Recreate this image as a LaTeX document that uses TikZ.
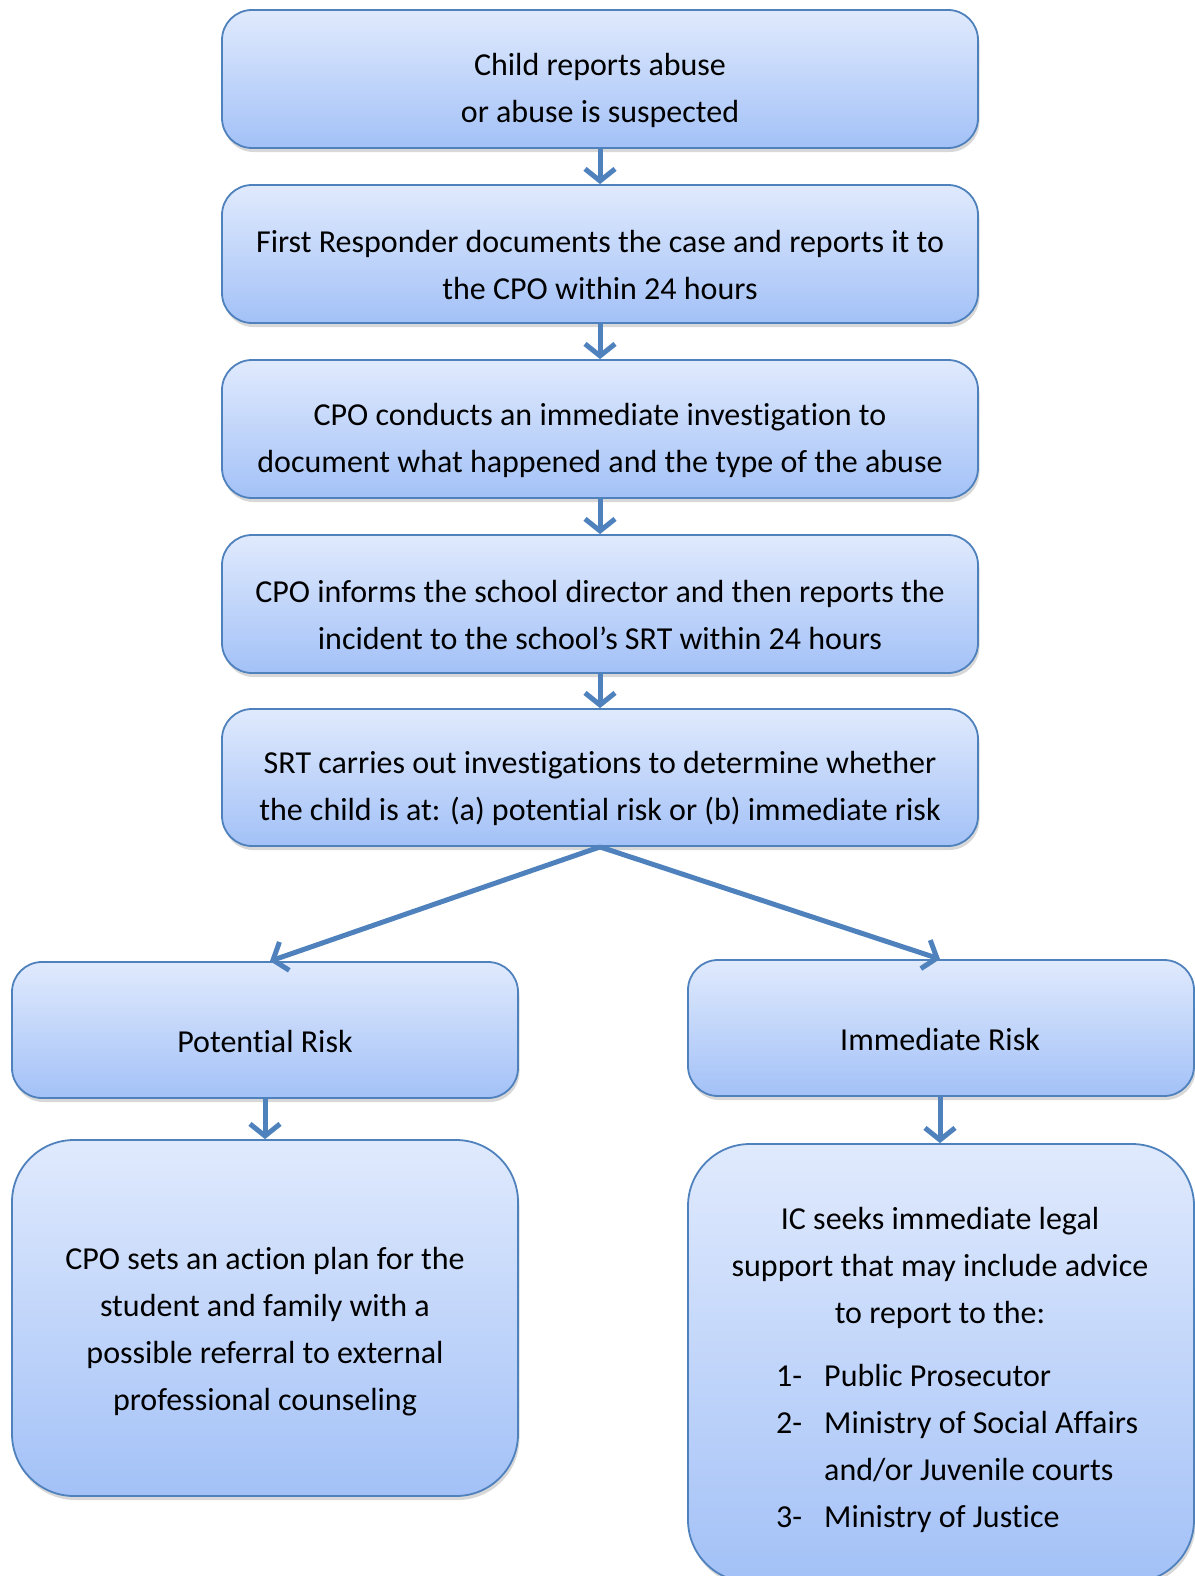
\documentclass[tikz,border=0pt]{standalone}
\usepackage{fontspec}
\setmainfont{Carlito}[Ligatures=CommonOff, RawFeature={-calt;-dlig;-liga;-clig}]
\usetikzlibrary{arrows.meta,shadows}
\definecolor{bordc}{HTML}{4F81BD}
\definecolor{topc}{HTML}{E0EAFD}
\definecolor{botc}{HTML}{A3C1F7}
\definecolor{arrc}{HTML}{4F81BD}
\tikzset{
  flowbox/.style={draw=bordc, line width=1.8pt, rounded corners=30pt,
    top color=topc, bottom color=botc, shading angle=0,
    drop shadow={shadow xshift=1.5pt, shadow yshift=-4pt, opacity=0.22, fill=black!70},
    inner sep=0pt},
  bigbox/.style={flowbox, rounded corners=62pt},
  boxtext/.style={inner sep=0pt, align=center, font=\fontsize{32}{47}\selectfont, text=black},
  flowarrow/.style={draw=arrc, line width=5pt, -{Straight Barb[length=12pt,width=30pt,line width=5pt]}}
}
\begin{document}
\begin{tikzpicture}[x=1pt,y=-1pt]
\useasboundingbox (0,0) rectangle (1194,1576);
\node[flowbox, minimum width=756pt, minimum height=138pt] (b1) at (600,79) {};
\node[flowbox, minimum width=756pt, minimum height=138pt] (b2) at (600,254) {};
\node[flowbox, minimum width=756pt, minimum height=138pt] (b3) at (600,429) {};
\node[flowbox, minimum width=756pt, minimum height=138pt] (b4) at (600,604) {};
\node[flowbox, minimum width=756pt, minimum height=137pt] (b5) at (600,777.5) {};
\node[flowbox, minimum width=506pt, minimum height=136pt] (pr) at (265,1030) {};
\node[flowbox, minimum width=506pt, minimum height=136pt] (ir) at (941,1028) {};
\node[bigbox, minimum width=506pt, minimum height=356pt] (bl) at (265,1318) {};
\node[bigbox, minimum width=506pt, minimum height=438pt] (br) at (941,1363) {};
\node[boxtext] (t1) at ([yshift=-11pt]b1.center) {Child reports abuse\\or abuse is suspected};
\node[boxtext] (t2) at ([yshift=-11pt]b2.center) {First Responder documents the case and reports it to\\the CPO within 24 hours};
\node[boxtext] (t3) at ([yshift=-11pt]b3.center) {CPO conducts an immediate investigation to\\document what happened and the type of the abuse};
\node[boxtext] (t4) at ([yshift=-11pt]b4.center) {CPO informs the school director and then reports the\\incident to the school’s SRT within 24 hours};
\node[boxtext] (t5) at ([yshift=-11pt]b5.center) {SRT carries out investigations to determine whether\\the child is at: (a) potential risk or (b) immediate risk};
\node[boxtext] (tpr) at ([yshift=-11pt]pr.center) {Potential Risk};
\node[boxtext] (tir) at ([xshift=-1pt,yshift=-11pt]ir.center) {Immediate Risk};
\node[boxtext] (tbl) at ([yshift=-14pt]bl.center)
  {CPO sets an action plan for the\\student and family with a\\possible referral to external\\professional counseling};
\node[boxtext] (brtext) at (940,1268)
  {IC seeks immediate legal\\support that may include advice\\to report to the:};
\node[boxtext, align=left, anchor=west] (brlist) at (776,1448)
  {\makebox[48pt][l]{1-}Public Prosecutor\\
   \makebox[48pt][l]{2-}Ministry of Social Affairs\\
   \makebox[48pt][l]{}and/or Juvenile courts\\
   \makebox[48pt][l]{3-}Ministry of Justice};
\draw[flowarrow] (b1.south) -- (b2.north);
\draw[flowarrow] (b2.south) -- (b3.north);
\draw[flowarrow] (b3.south) -- (b4.north);
\draw[flowarrow] (b4.south) -- (b5.north);
\draw[flowarrow] (b5.south) -- ([xshift=5pt]pr.north);
\draw[flowarrow] (b5.south) -- ([xshift=-1pt]ir.north);
\draw[flowarrow] (pr.south) -- (bl.north);
\draw[flowarrow] ([xshift=-1pt]ir.south) -- ([xshift=-1pt]br.north);
\end{tikzpicture}
\end{document}
